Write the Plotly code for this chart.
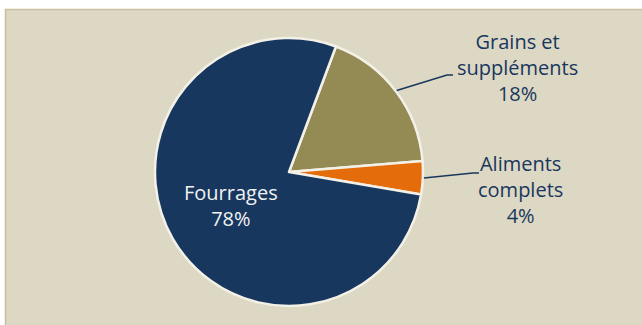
import math
import plotly.graph_objects as go

# Feed composition shares (%)
labels = ["Grains et<br>suppléments", "Aliments<br>complets", "Fourrages"]
values = [18, 4, 78]
colors = ["#948A54", "#E46C0A", "#17375E"]
start_angle = 20.5  # clockwise from 12 o'clock

W, H = 642, 325
cx, cy, r = 289, 172, 134  # pie centre and radius in pixels
FONT = "Open Sans"
FS = 20
TEXT_DARK = "#17375E"
TEXT_LIGHT = "#F2F2F2"


def px_to_paper(x, y):
    return x / W, 1 - y / H


fig = go.Figure()
fig.add_trace(go.Pie(
    labels=labels,
    values=values,
    sort=False,
    direction="clockwise",
    rotation=start_angle,
    marker=dict(colors=colors, line=dict(color="#F3F1E7", width=2.5)),
    textinfo="none",
    hoverinfo="label+percent",
    showlegend=False,
    domain=dict(x=[(cx - r) / W, (cx + r) / W],
                y=[(H - cy - r) / H, (H - cy + r) / H]),
))

total = sum(values)
cum = 0
mids = []
for v in values:
    mids.append(start_angle + (cum + v / 2) / total * 360)
    cum += v


def point_at(angle_deg, radius):
    a = math.radians(angle_deg)
    return cx + radius * math.sin(a), cy - radius * math.cos(a)


# label placement for each slice: inside label or outside with leader line
placement = {
    "Grains et<br>suppléments": dict(elbow=(447, 75), text=(517, 67)),
    "Aliments<br>complets": dict(elbow=(473, 173), text=(520, 189)),
}

shapes = [
    # panel background with a thin border on its top and left edges
    dict(type="rect", xref="paper", yref="paper",
         x0=5.5 / W, x1=1.05, y0=-0.05, y1=1 - 9.5 / H,
         fillcolor="#DDD8C3", line=dict(color="#C7C09C", width=1.5),
         layer="below"),
]
annotations = []

for lab, v, mid in zip(labels, values, mids):
    txt = f"{lab}<br>{v}%"
    if lab in placement:
        p = placement[lab]
        ax, ay = point_at(mid, r + 1)
        ex, ey = p["elbow"]
        x0, y0 = px_to_paper(ax, ay)
        x1, y1 = px_to_paper(ex, ey)
        x2, y2 = px_to_paper(ex + 6, ey)
        shapes.append(dict(type="path", xref="paper", yref="paper",
                           path=f"M {x0} {y0} L {x1} {y1} L {x2} {y2}",
                           line=dict(color=TEXT_DARK, width=1.5)))
        tx, ty = px_to_paper(*p["text"])
        color = TEXT_DARK
    else:
        tx, ty = px_to_paper(*point_at(mid, 0.5 * r))
        color = TEXT_LIGHT
    annotations.append(dict(x=tx, y=ty, xref="paper", yref="paper",
                            xanchor="center", yanchor="middle",
                            text=txt, showarrow=False, align="center",
                            font=dict(family=FONT, size=FS, color=color)))

fig.update_layout(
    width=W, height=H,
    margin=dict(l=0, r=0, t=0, b=0),
    paper_bgcolor="white",
    plot_bgcolor="rgba(0,0,0,0)",
    shapes=shapes,
    annotations=annotations,
)

fig.write_html("out.html")
